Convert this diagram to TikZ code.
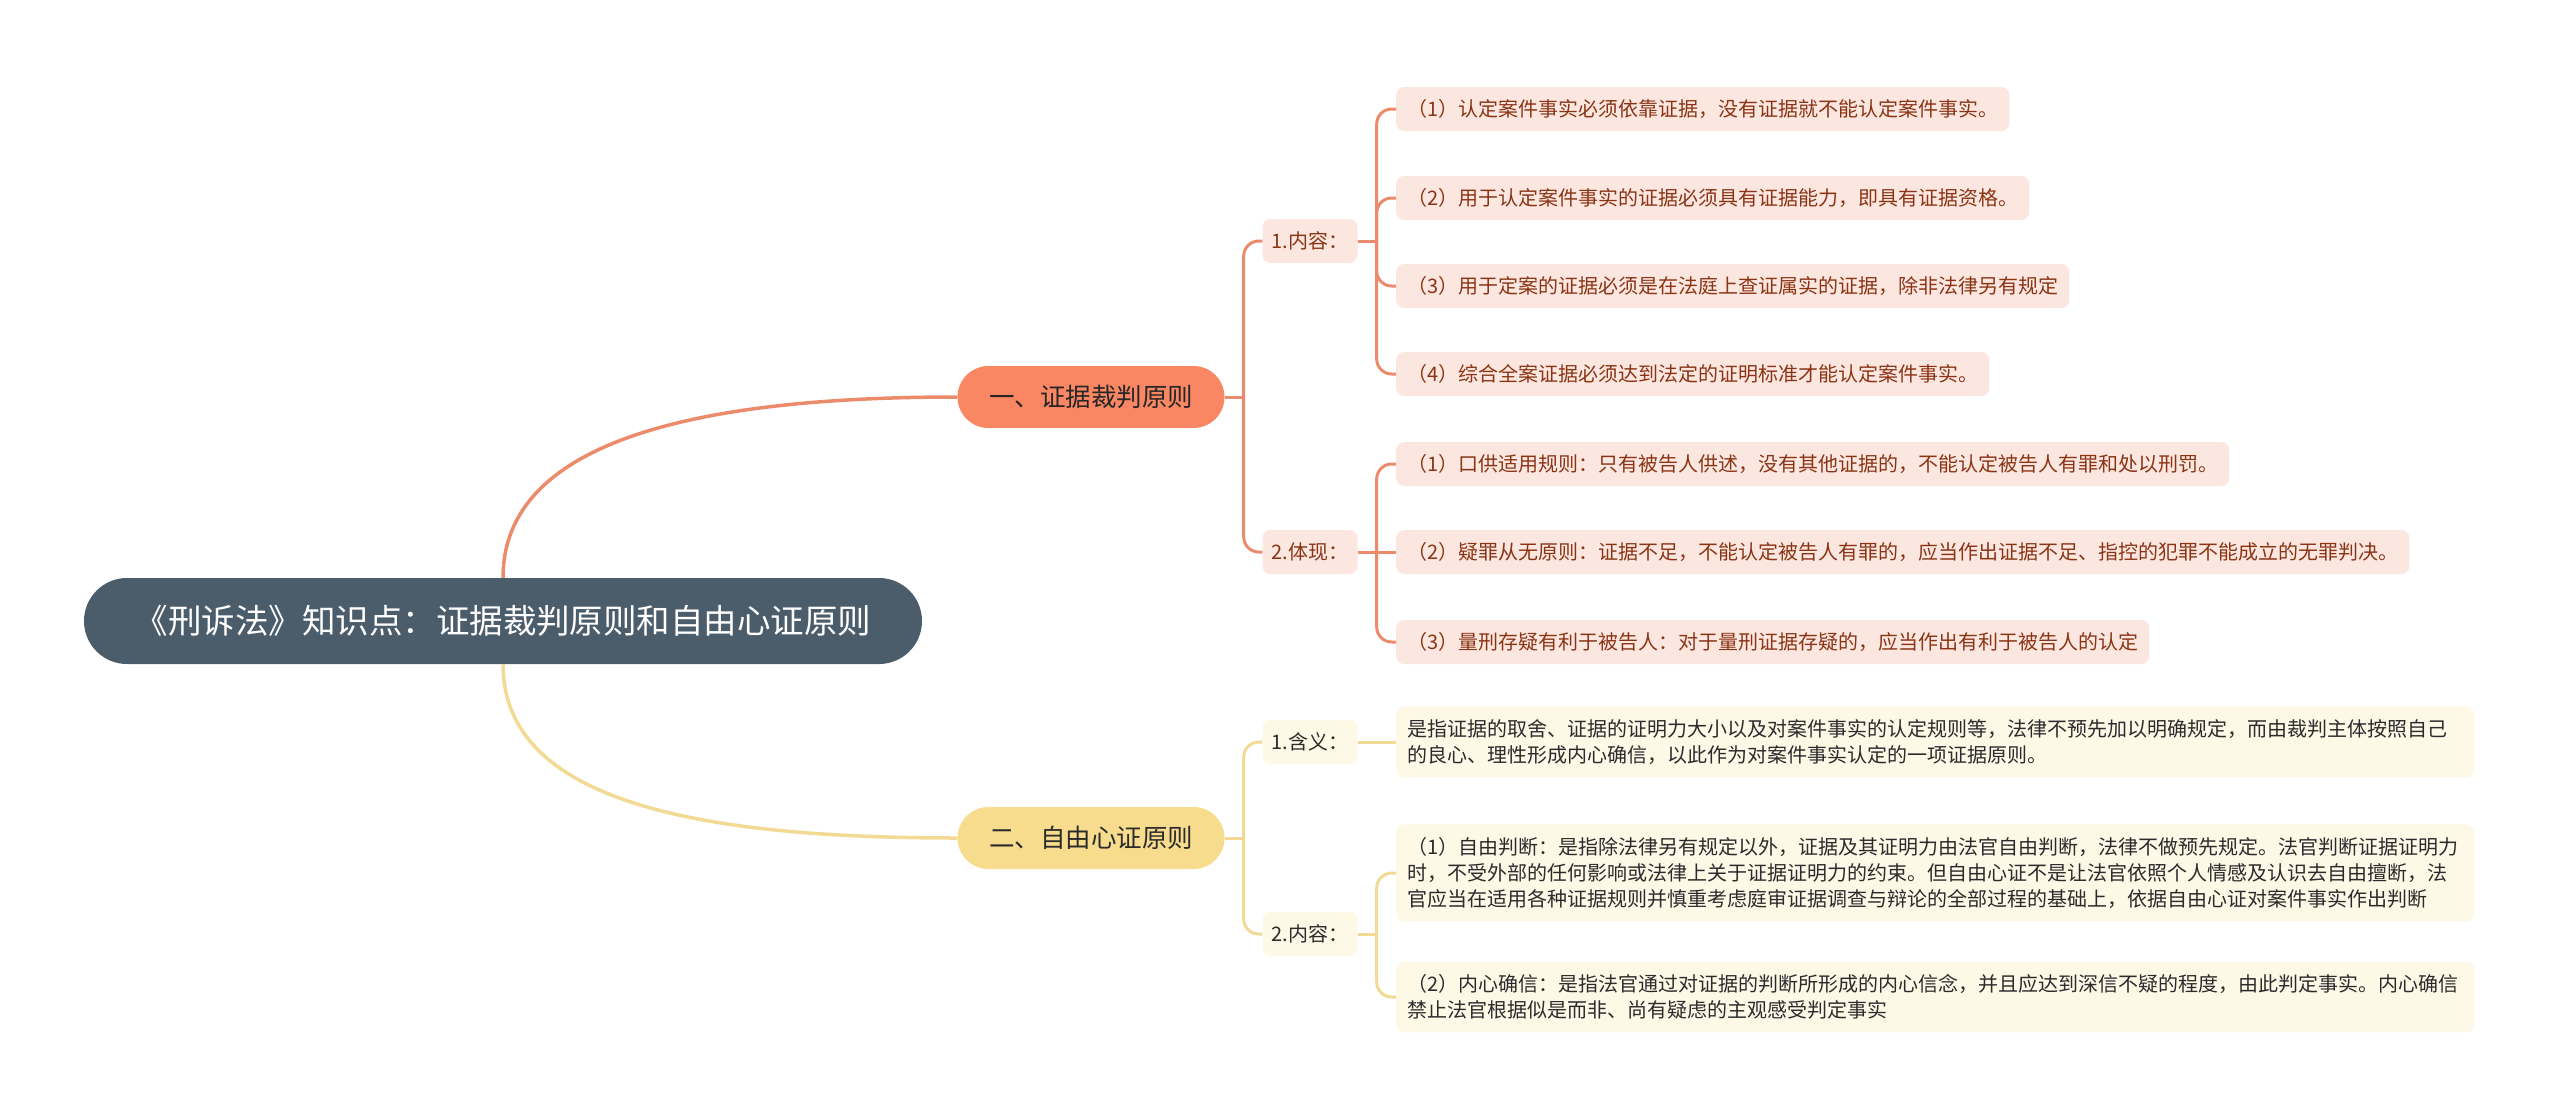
\documentclass[tikz,border=0pt]{standalone}
\usepackage{fontspec}
\setmainfont{Noto Sans CJK SC}

\definecolor{rootfill}{HTML}{4B5C6B}
\definecolor{redfill}{HTML}{FA8763}
\definecolor{redline}{HTML}{EC8B6C}
\definecolor{redpale}{HTML}{FCE7E0}
\definecolor{redtext}{HTML}{8B3415}
\definecolor{yelfill}{HTML}{F7DC8D}
\definecolor{yelline}{HTML}{F2DA94}
\definecolor{yelpale}{HTML}{FEF8E7}
\definecolor{yeltext}{HTML}{2B2B2B}

\tikzset{
  rootbox/.style={fill=rootfill, text=white, rounded corners=43pt, minimum width=838pt, minimum height=86pt, font=\fontsize{33.5}{40}\selectfont},
  mainbox/.style={rounded corners=31pt, minimum width=267pt, minimum height=62pt, font=\fontsize{25.5}{30}\selectfont},
  subbox/.style={rounded corners=8pt, minimum width=95pt, minimum height=44pt, font=\fontsize{20}{26}\selectfont},
  leafbox/.style={anchor=west, rounded corners=8pt, minimum height=44pt, inner xsep=11pt, font=\fontsize{20}{26}\selectfont},
  parabox/.style={leafbox, text width=1056pt, align=left, inner ysep=13pt},
  curve/.style={line width=3.5pt},
  bracket/.style={line width=3pt, rounded corners=15pt},
}

\begin{document}
\begin{tikzpicture}[x=1pt, y=-1pt]
			\useasboundingbox (0,0) rectangle (2560,1119);

			\node[rootbox] (root) at (503,621) {《刑诉法》知识点：证据裁判原则和自由心证原则};

			\node[mainbox, fill=redfill, text=black!85] (b1) at (1091,397) {一、证据裁判原则};
			\node[mainbox, fill=yelfill, text=yeltext] (b2) at (1091,838) {二、自由心证原则};

			\node[subbox, fill=redpale, text=redtext] (n1) at (1310,241) {1.内容：};
			\node[subbox, fill=redpale, text=redtext] (n2) at (1310,552) {2.体现：};
			\node[subbox, fill=yelpale, text=yeltext] (n3) at (1310,742) {1.含义：};
			\node[subbox, fill=yelpale, text=yeltext] (n4) at (1310,934) {2.内容：};

			\node[leafbox, fill=redpale, text=redtext] (i1) at (1396,109) {（1）认定案件事实必须依靠证据，没有证据就不能认定案件事实。};
			\node[leafbox, fill=redpale, text=redtext] (i2) at (1396,198) {（2）用于认定案件事实的证据必须具有证据能力，即具有证据资格。};
			\node[leafbox, fill=redpale, text=redtext] (i3) at (1396,286) {（3）用于定案的证据必须是在法庭上查证属实的证据，除非法律另有规定};
			\node[leafbox, fill=redpale, text=redtext] (i4) at (1396,374) {（4）综合全案证据必须达到法定的证明标准才能认定案件事实。};
			\node[leafbox, fill=redpale, text=redtext] (i5) at (1396,464) {（1）口供适用规则：只有被告人供述，没有其他证据的，不能认定被告人有罪和处以刑罚。};
			\node[leafbox, fill=redpale, text=redtext] (i6) at (1396,552) {（2）疑罪从无原则：证据不足，不能认定被告人有罪的，应当作出证据不足、指控的犯罪不能成立的无罪判决。};
			\node[leafbox, fill=redpale, text=redtext] (i7) at (1396,642) {（3）量刑存疑有利于被告人：对于量刑证据存疑的，应当作出有利于被告人的认定};

			\node[parabox, fill=yelpale, text=yeltext] (p1) at (1396,742) {是指证据的取舍、证据的证明力大小以及对案件事实的认定规则等，法律不预先加以明确规定，而由裁判主体按照自己\\的良心、理性形成内心确信，以此作为对案件事实认定的一项证据原则。};
			\node[parabox, fill=yelpale, text=yeltext] (p2) at (1396,873) {（1）自由判断：是指除法律另有规定以外，证据及其证明力由法官自由判断，法律不做预先规定。法官判断证据证明力\\时，不受外部的任何影响或法律上关于证据证明力的约束。但自由心证不是让法官依照个人情感及认识去自由擅断，法\\官应当在适用各种证据规则并慎重考虑庭审证据调查与辩论的全部过程的基础上，依据自由心证对案件事实作出判断};
			\node[parabox, fill=yelpale, text=yeltext] (p3) at (1396,997) {（2）内心确信：是指法官通过对证据的判断所形成的内心信念，并且应达到深信不疑的程度，由此判定事实。内心确信\\禁止法官根据似是而非、尚有疑虑的主观感受判定事实};

			% root to the two principles
			\draw[curve, redline] (root.north) .. controls +(0,-138) and +(-258,0) .. (b1.west);
			\draw[curve, yelline] (root.south) .. controls +(0,138) and +(-258,0) .. (b2.west);

			% first principle
			\draw[bracket, redline] (b1.east) -- ++(19,0) coordinate (j1);
			\draw[bracket, redline] (j1) |- (n1.west);
			\draw[bracket, redline] (j1) |- (n2.west);

			\draw[bracket, redline] (n1.east) -- ++(19,0) coordinate (j2);
			\draw[bracket, redline] (j2) |- (i1.west);
			\draw[bracket, redline] (j2) |- (i2.west);
			\draw[bracket, redline] (j2) |- (i3.west);
			\draw[bracket, redline] (j2) |- (i4.west);

			\draw[bracket, redline] (n2.east) -- ++(19,0) coordinate (j3);
			\draw[bracket, redline] (j3) |- (i5.west);
			\draw[bracket, redline] (j3) -- (i6.west);
			\draw[bracket, redline] (j3) |- (i7.west);

			% second principle
			\draw[bracket, yelline] (b2.east) -- ++(19,0) coordinate (j4);
			\draw[bracket, yelline] (j4) |- (n3.west);
			\draw[bracket, yelline] (j4) |- (n4.west);

			\draw[bracket, yelline] (n3.east) -- (p1.west);

			\draw[bracket, yelline] (n4.east) -- ++(19,0) coordinate (j5);
			\draw[bracket, yelline] (j5) |- (p2.west);
			\draw[bracket, yelline] (j5) |- (p3.west);
\end{tikzpicture}
\end{document}
